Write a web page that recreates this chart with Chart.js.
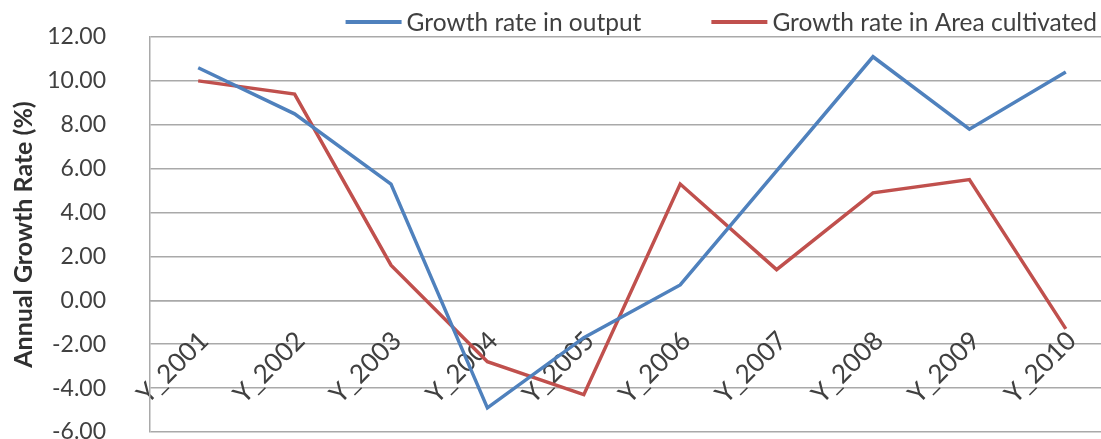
<!DOCTYPE html>
<html>
<head>
<meta charset="utf-8">
<title>Annual Growth Rate</title>
<script src="https://cdn.jsdelivr.net/npm/chart.js@4/dist/chart.umd.min.js"></script>
<style>
  html, body { margin: 0; padding: 0; background: #ffffff; overflow: hidden; }
  #wrap { width: 1114px; height: 439px; }
</style>
</head>
<body>
<div id="wrap"><canvas id="growth" width="1114" height="439"></canvas></div>
<script>
// Years on the category axis
const categories = ['Y_2001', 'Y_2002', 'Y_2003', 'Y_2004', 'Y_2005',
                    'Y_2006', 'Y_2007', 'Y_2008', 'Y_2009', 'Y_2010'];

// Annual growth rate in output (%)
const outputGrowth = [10.6, 8.5, 5.3, -4.9, -1.7, 0.7, 5.9, 11.1, 7.8, 10.4];

// Annual growth rate in area cultivated (%)
const areaGrowth = [10.0, 9.4, 1.6, -2.8, -4.3, 5.3, 1.4, 4.9, 5.5, -1.3];

// Value axis range and step
const yMin = -6;
const yMax = 12;
const yStep = 2;

const seriesNames = ['Growth rate in output', 'Growth rate in Area cultivated'];

const FONT = 'Lato, "Liberation Sans", sans-serif';
const TEXT = '#404040';
const GRID = '#a9a9a9';

// Legend drawn as a single row of line swatches above the plot, right-aligned
const lineLegend = {
  id: 'lineLegend',
  afterDraw(chart) {
    const { ctx, chartArea } = chart;
    const sets = chart.data.datasets;
    const swatch = 56, gap = 5, itemGap = 70;
    ctx.save();
    ctx.font = '24.5px ' + FONT;
    ctx.textBaseline = 'middle';
    ctx.textAlign = 'left';
    const widths = sets.map(d => swatch + gap + ctx.measureText(d.label).width);
    const total = widths.reduce((a, b) => a + b, 0) + itemGap * (sets.length - 1);
    let x = chartArea.right - 17 - total;
    const y = chartArea.top - 15;
    sets.forEach((d, i) => {
      ctx.strokeStyle = d.borderColor;
      ctx.lineWidth = 4;
      ctx.beginPath();
      ctx.moveTo(x, y);
      ctx.lineTo(x + swatch, y);
      ctx.stroke();
      ctx.fillStyle = TEXT;
      ctx.fillText(d.label, x + swatch + gap, y + 1);
      x += widths[i] + itemGap;
    });
    ctx.restore();
  }
};

function build() {
  new Chart(document.getElementById('growth'), {
    type: 'line',
    data: {
      labels: categories,
      datasets: [
        {
          label: seriesNames[0],
          data: outputGrowth,
          borderColor: '#4f81bd',
          backgroundColor: '#4f81bd',
          borderWidth: 3.5,
          pointRadius: 0,
          tension: 0
        },
        {
          label: seriesNames[1],
          data: areaGrowth,
          borderColor: '#c0504d',
          backgroundColor: '#c0504d',
          borderWidth: 3.5,
          pointRadius: 0,
          tension: 0
        }
      ]
    },
    options: {
      responsive: false,
      animation: false,
      layout: { padding: { top: 37, bottom: 7, left: 0, right: 0 } },
      plugins: {
        legend: { display: false },
        tooltip: { enabled: false }
      },
      scales: {
        x: {
          type: 'category',
          position: { y: 0 },
          offset: true,
          grid: { display: false, drawTicks: false },
          border: { display: true, color: GRID, width: 1.5 },
          ticks: {
            minRotation: 45,
            maxRotation: 45,
            autoSkip: false,
            padding: 25,
            labelOffset: 6,
            color: TEXT,
            font: { family: FONT, size: 26 }
          }
        },
        y: {
          min: yMin,
          max: yMax,
          ticks: {
            stepSize: yStep,
            padding: 44,
            color: TEXT,
            font: { family: FONT, size: 23 },
            callback: v => Number(v).toFixed(2)
          },
          grid: { color: GRID, lineWidth: 1.5, drawTicks: false },
          border: { display: true, color: GRID, width: 1.5 },
          title: {
            display: true,
            text: 'Annual Growth Rate (%)',
            color: '#303030',
            font: { family: FONT, size: 25, weight: 'bold' },
            padding: { top: 9, bottom: 0 }
          },
          afterFit(scale) {
            scale.width = 150;
            scale.paddingTop = 0;
            scale.paddingBottom = 0;
          }
        }
      }
    },
    plugins: [lineLegend]
  });
}

if (document.fonts && document.fonts.load) {
  Promise.all([
    document.fonts.load('26px Lato'),
    document.fonts.load('bold 25px Lato')
  ]).then(build, build);
} else {
  build();
}
</script>
</body>
</html>
